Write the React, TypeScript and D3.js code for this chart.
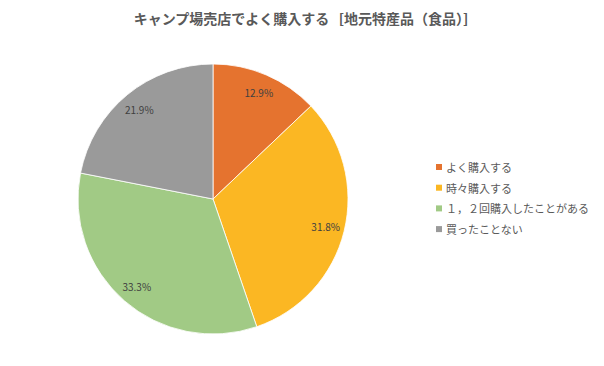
import React from 'react';
import { arc, pie, PieArcDatum } from 'd3';

const categories = ['よく購入する', '時々購入する', '１，２回購入したことがある', '買ったことない'];
const values = [12.9, 31.8, 33.3, 21.9];
const colors = ['#E5732F', '#FBB723', '#A1CA85', '#9A9A9A'];

const width = 604;
const height = 366;
const cx = 213;
const cy = 199;
const radius = 135;
const font = '"Noto Sans CJK JP", "Noto Sans", sans-serif';

const pieGen = pie<number>().value(d => d).sort(null);
const sliceArc = arc<PieArcDatum<number>>().innerRadius(0).outerRadius(radius);
const labelArc = arc<PieArcDatum<number>>().innerRadius(116).outerRadius(116);

const App = () => {
  const slices = pieGen(values);
  return (
    <svg width={width} height={height} style={{ position: 'absolute', left: 0, top: 0 }}>
      <rect width={width} height={height} fill="#fff" />
      <text x={301} y={24} textAnchor="middle" fontFamily={font} fontSize={14} fontWeight="bold" fill="#595959" style={{ whiteSpace: 'pre' }}>
        {'キャンプ場売店でよく購入する   [地元特産品（食品）]'}
      </text>
      <g transform={`translate(${cx}, ${cy})`}>
        {slices.map((d, i) => (
          <path key={i} d={sliceArc(d) || ''} fill={colors[i]} stroke="#fff" strokeWidth={0.8} />
        ))}
        {slices.map((d, i) => {
          const [x, y] = labelArc.centroid(d);
          return (
            <text key={i} x={x} y={y} textAnchor="middle" dominantBaseline="central" fontFamily={font} fontSize={10} fill="#404040">
              {values[i].toFixed(1)}%
            </text>
          );
        })}
      </g>
      <g transform="translate(436, 167)">
        {categories.map((c, i) => (
          <g key={i} transform={`translate(0, ${i * 20.7})`}>
            <rect x={0} y={-3} width={6} height={6} fill={colors[i]} />
            <text x={10} y={0} dominantBaseline="central" fontFamily={font} fontSize={11} fill="#595959">
              {c}
            </text>
          </g>
        ))}
      </g>
    </svg>
  );
};

export default App;
